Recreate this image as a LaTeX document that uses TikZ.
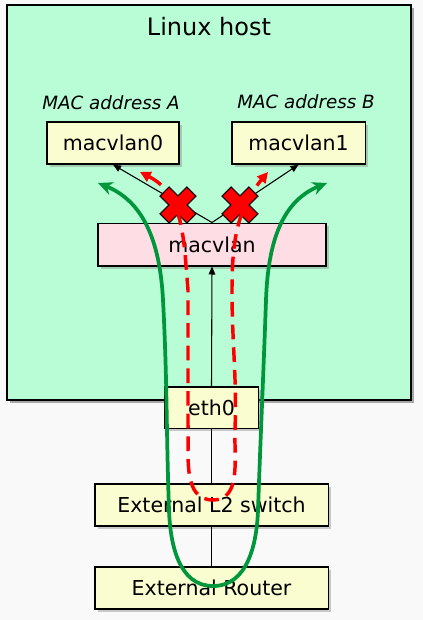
\documentclass[tikz,border=0pt]{standalone}
\usepackage{fontspec}
\setmainfont{DejaVu Sans}
\usepackage{xcolor}
\usetikzlibrary{arrows.meta,shadows}
\definecolor{paper}{HTML}{F9F9F9}
\definecolor{hostgreen}{HTML}{B8FDD6}
\definecolor{ifyellow}{HTML}{FAFDCF}
\definecolor{drvpink}{HTML}{FFDDE4}
\definecolor{passgreen}{HTML}{00963C}

\tikzset{blocked/.pic={
  \draw[fill=red,line width=.8pt,rotate=45] (6.5,19) -- (6.5,6.5) -- (19,6.5) -- (19,-6.5) -- (6.5,-6.5) -- (6.5,-19) -- (-6.5,-19) -- (-6.5,-6.5) -- (-19,-6.5) -- (-19,6.5) -- (-6.5,6.5) -- (-6.5,19) -- cycle;
}}

\begin{document}
\begin{tikzpicture}[x=0.75pt,y=0.75pt,
  shade box/.style={draw,line width=1pt,inner sep=0pt,drop shadow={shadow xshift=2pt,shadow yshift=-2pt,opacity=.4}},
  box/.style={shade box,fill=ifyellow,minimum height=31.5pt,font=\fontsize{15.4}{18}\selectfont},
  macl/.style={anchor=base,font=\fontsize{13.7}{16}\selectfont\itshape},
  link/.style={line width=.8pt},
  linkarrow/.style={link,-{Triangle[length=6pt,width=5pt]}},
  passes/.style={passgreen,line width=2.8pt,{Stealth[length=11pt,width=10pt]}-{Stealth[length=11pt,width=10pt]}},
  dropped/.style={red,line width=2.6pt,dash pattern=on 11pt off 6pt,{Triangle[length=8pt,width=8pt]}-{Triangle[length=8pt,width=8pt]}}]
\fill[paper] (0,0) rectangle (423,-620);
\useasboundingbox (0,0) rectangle (423,-620);

% the host
\node[shade box,line width=1.2pt,fill=hostgreen,minimum width=303pt,minimum height=296pt,drop shadow={shadow xshift=2.5pt,shadow yshift=-2.5pt,opacity=.45}] (host) at (209,-202.5) {};
\node[anchor=base,font=\fontsize{18}{21}\selectfont] (title) at (209,-35.7) {Linux host};
\node[macl] (maca) at (111,-110) {MAC address A};
\node[macl] (macb) at (306,-108.3) {MAC address B};

% interfaces
\node[box,minimum width=99pt] (mv0) at (113,-143) {macvlan0};
\node[box,minimum width=100pt] (mv1) at (298.5,-143) {macvlan1};
\node[box,fill=drvpink,minimum width=171pt,minimum height=32pt] (macvlan) at (212,-244.5) {macvlan};
\node[box,minimum width=70pt,minimum height=31pt] (eth0) at (211.5,-407.5) {eth0};
\node[box,minimum width=175pt] (switch) at (211.5,-505) {External L2 switch};
\node[box,minimum width=175pt] (router) at (211.5,-588) {External Router};

% links
\draw[linkarrow] (macvlan.north) -- (mv0.south);
\draw[linkarrow] (macvlan.north) -- (mv1.south);
\draw[linkarrow] (eth0.north) -- (macvlan.south);
\draw[link] (eth0.south) -- (switch.north);
\draw[link] (switch.south) -- (router.north);

\pic at (178,-205) {blocked};
\pic at (240,-205) {blocked};

% traffic
\draw[passes] (98,-183) to[out=-22,in=93] (163,-300) to[out=-87,in=92] (169,-510) to[out=-88,in=180] (213,-586) to[out=0,in=-92] (258,-510) to[out=88,in=-92] (266,-300) to[out=88,in=202] (327,-183);
\draw[dropped] (140,-172) to[out=-27,in=95] (188,-290) -- (188,-425) to[out=-88,in=180] (213,-500) to[out=0,in=-92] (235,-430) to[out=88,in=-90] (232,-290) to[out=90,in=230] (268,-172);
\end{tikzpicture}
\end{document}
